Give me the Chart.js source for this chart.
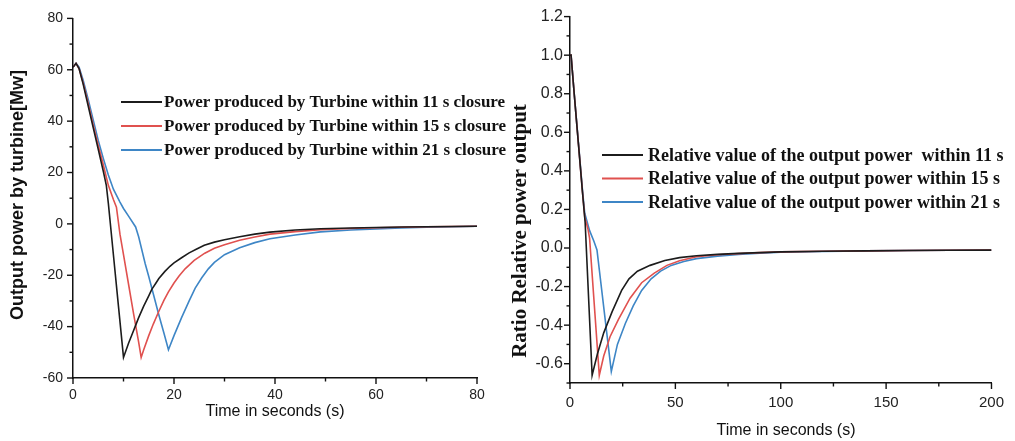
<!DOCTYPE html>
<html><head><meta charset="utf-8">
<script src="https://cdn.jsdelivr.net/npm/chart.js@4.4.0/dist/chart.umd.min.js"></script>
<style>
html,body{margin:0;padding:0;background:#fff;width:1015px;height:441px;overflow:hidden}
#c1{position:absolute;left:0;top:0}
#c2{position:absolute;left:510px;top:0}
</style></head><body>
<canvas id="c1" width="510" height="441"></canvas>
<canvas id="c2" width="505" height="441"></canvas>
<script>
// ---------- Left chart data: output power (MW) vs time (s) ----------
const powerTime11 = [0,0.6,1.2,2,3,4,5,6,6.6,7,8,9,10,11,12,12.3,13,14,15,15.6,16.5,17,18.2,19.2,20,21.5,23,24.5,26,28,30,33,36,39,44,49,55,60,65,70,75,80];
const power11     = [61,62.5,60.5,54.5,46,37.5,29,20.5,15,8,-12,-32,-52,-46.5,-41.5,-40,-36.5,-32,-28,-25.5,-22.8,-21.3,-18.5,-16.5,-15.2,-13.2,-11.3,-9.8,-8.3,-7.1,-6.2,-5,-4,-3.2,-2.4,-1.9,-1.6,-1.4,-1.2,-1.1,-1.0,-0.9];
const powerTime15 = [0,0.6,1.2,2,3,4,5,6,7,8,8.6,9.3,10,11,12,13,13.5,14,15,15.9,17,18,18.9,20,21,22.2,24,26.1,28,30,33,36,39,44,49,55,60,65,70,75,80];
const power15     = [61,62.5,60.5,55,47,38.5,30.5,23,15,9.5,6.5,-4,-12,-23.5,-35,-46,-52,-49,-43.5,-39,-34,-29.8,-26.5,-23,-20.3,-17.5,-14.2,-11.4,-9.5,-8.1,-6.4,-5.1,-4.0,-3.0,-2.3,-1.8,-1.5,-1.3,-1.1,-1.0,-0.9];
const powerTime21 = [0,0.6,1.2,2,3,4,5,6,7,8,9.3,10,11,12.4,13,14.3,15,16,17,18,18.9,20,21.5,23,24.2,25.5,26.8,28,30,33,36,39,44,49,55,60,65,70,75,80];
const power21     = [61,62.5,61,56,48.5,40.5,32.5,25.5,19,13.5,8.5,6,3,-1.2,-5,-15.5,-20.5,-28,-35.5,-42.5,-49,-43.5,-36.5,-30,-25,-21,-17.5,-15,-12,-9.3,-7.3,-5.8,-4.3,-3.1,-2.4,-2,-1.6,-1.3,-1.1,-0.9];
const powerLabels = ['Power produced by Turbine within 11 s closure','Power produced by Turbine within 15 s closure','Power produced by Turbine within 21 s closure'];
const powerXTicks = [0,20,40,60,80];
const powerXMinor = [10,30,50,70];
const powerYTicks = [-60,-40,-20,0,20,40,60,80];
const powerYMinor = [-50,-30,-10,10,30,50,70];

// ---------- Right chart data: relative power ratio vs time (s) ----------
const ratioTime11 = [0,0.5,2,4,6,7.2,10.5,13,16,20,24.5,28,32,38,45,52,60,70,80,90,100,120,140,160,180,200];
const ratio11     = [1.0,1.0,0.8,0.54,0.28,0.13,-0.66,-0.55,-0.44,-0.33,-0.22,-0.16,-0.12,-0.09,-0.065,-0.05,-0.04,-0.033,-0.028,-0.024,-0.02,-0.017,-0.015,-0.013,-0.012,-0.011];
const ratioTime15 = [0,0.5,2,4,6,7,8.5,9.3,13.9,16,19,23,28.5,34,40,46,52,60,70,80,90,100,120,140,160,180,200];
const ratio15     = [1.0,1.0,0.8,0.54,0.28,0.16,0.1,0.05,-0.66,-0.56,-0.46,-0.37,-0.26,-0.18,-0.13,-0.09,-0.066,-0.045,-0.035,-0.029,-0.024,-0.02,-0.017,-0.015,-0.013,-0.012,-0.011];
const ratioTime21 = [0,0.5,2,4,6,7,9.3,11.3,12.8,19.6,22.5,26.3,30,34,38.5,43,48,54,60,70,80,90,100,120,140,160,180,200];
const ratio21     = [1.0,1.0,0.8,0.545,0.29,0.18,0.09,0.036,-0.01,-0.64,-0.5,-0.39,-0.3,-0.22,-0.16,-0.12,-0.09,-0.07,-0.055,-0.042,-0.034,-0.027,-0.022,-0.018,-0.015,-0.013,-0.012,-0.011];
const ratioLabels = ['Relative value of the output power  within 11 s','Relative value of the output power within 15 s','Relative value of the output power within 21 s'];
const ratioXTicks = [0,50,100,150,200];
const ratioXMinor = [25,75,125,175];
const ratioYTicks = [-0.6,-0.4,-0.2,0.0,0.2,0.4,0.6,0.8,1.0,1.2];
const ratioYMinor = [-0.7,-0.5,-0.3,-0.1,0.1,0.3,0.5,0.7,0.9,1.1];

const seriesColors = ['#1c1c1c','#e0514f','#3e86c6'];
const pts = (xs, ys) => xs.map((x, i) => ({x, y: ys[i]}));

function decor(o){
  return {
    id: 'decor',
    afterDraw(chart){
      const ctx = chart.ctx, a = chart.chartArea, xs = chart.scales.x, ys = chart.scales.y;
      const line = (x1,y1,x2,y2) => { ctx.beginPath(); ctx.moveTo(x1,y1); ctx.lineTo(x2,y2); ctx.stroke(); };
      ctx.save();
      ctx.strokeStyle = '#111'; ctx.lineWidth = 1.4;
      o.xMajor.forEach(v => { const p = xs.getPixelForValue(v); line(p, a.bottom, p, a.bottom + 6); });
      o.xMinor.forEach(v => { const p = xs.getPixelForValue(v); line(p, a.bottom, p, a.bottom + 3.5); });
      o.yMajor.forEach(v => { const p = ys.getPixelForValue(v); line(a.left, p, a.left - 6, p); });
      o.yMinor.forEach(v => { const p = ys.getPixelForValue(v); line(a.left, p, a.left - 3.5, p); });
      // legend
      ctx.font = o.legendFont; ctx.textBaseline = 'middle'; ctx.textAlign = 'left';
      chart.data.datasets.forEach((ds, i) => {
        const y = o.legY + i * o.legGap;
        ctx.strokeStyle = ds.borderColor; ctx.lineWidth = 2;
        line(o.legX, y, o.legX + 41, y);
        ctx.fillStyle = '#111';
        ctx.fillText(ds.label, o.legX + o.legTextGap, y + 1);
      });
      // axis titles
      ctx.fillStyle = '#111'; ctx.textAlign = 'center'; ctx.textBaseline = 'middle';
      ctx.font = o.xTitleFont;
      ctx.fillText(o.xTitle, o.xTitleX, o.xTitleY);
      ctx.save();
      ctx.translate(o.yTitleX, o.yTitleY); ctx.rotate(-Math.PI / 2);
      ctx.font = o.yTitleFont;
      ctx.fillText(o.yTitle, 0, 0);
      ctx.restore();
      ctx.restore();
    }
  };
}

function axis(min, max, tickVals, fmt, afterFit, font, pad){
  return {
    type: 'linear', min, max,
    afterBuildTicks: s => { s.ticks = tickVals.map(v => ({value: v})); },
    afterFit,
    grid: {display: false, drawTicks: false},
    border: {display: true, color: '#111', width: 1.5},
    ticks: {color: '#222', font: {family: '"Liberation Sans", Arial, sans-serif', size: font}, padding: pad, callback: fmt, maxRotation: 0, autoSkip: false}
  };
}

function makeDatasets(pairs, labels){
  return pairs.map((p, i) => ({
    label: labels[i], data: pts(p[0], p[1]), borderColor: seriesColors[i], backgroundColor: seriesColors[i],
    borderWidth: 1.6, pointRadius: 0, tension: 0, fill: false
  }));
}

const common = {
  responsive: false, animation: false, devicePixelRatio: 1,
  plugins: {legend: {display: false}, tooltip: {enabled: false}}
};

new Chart(document.getElementById('c1'), {
  type: 'line',
  data: {datasets: makeDatasets([[powerTime11, power11],[powerTime15, power15],[powerTime21, power21]], powerLabels)},
  options: Object.assign({}, common, {
    layout: {padding: {left: 0, right: 33, top: 15, bottom: 0}},
    scales: {
      x: axis(0, 80, powerXTicks, v => String(v), s => { s.height = 63; }, 14, 9),
      y: axis(-60, 80, powerYTicks, v => String(v), s => { s.width = 73; }, 14, 10)
    }
  }),
  plugins: [decor({
    xMajor: powerXTicks, xMinor: powerXMinor, yMajor: powerYTicks, yMinor: powerYMinor,
    legendFont: 'bold 17px "Liberation Serif", "Times New Roman", serif', legX: 121, legY: 102, legGap: 24, legTextGap: 43,
    xTitle: 'Time in seconds (s)', xTitleFont: '16px "Liberation Sans", Arial, sans-serif', xTitleX: 275, xTitleY: 412,
    yTitle: 'Output power by turbine[Mw]', yTitleFont: 'bold 18px "Liberation Sans", Arial, sans-serif', yTitleX: 18, yTitleY: 195
  })]
});

new Chart(document.getElementById('c2'), {
  type: 'line',
  data: {datasets: makeDatasets([[ratioTime11, ratio11],[ratioTime15, ratio15],[ratioTime21, ratio21]], ratioLabels)},
  options: Object.assign({}, common, {
    layout: {padding: {left: 0, right: 14, top: 15, bottom: 0}},
    scales: {
      x: axis(0, 200, ratioXTicks, v => String(v), s => { s.height = 58; }, 15, 11),
      y: axis(-0.7, 1.2, ratioYTicks, v => v.toFixed(1), s => { s.width = 60; }, 16, 7)
    }
  }),
  plugins: [decor({
    xMajor: ratioXTicks, xMinor: ratioXMinor, yMajor: ratioYTicks, yMinor: ratioYMinor,
    legendFont: 'bold 18px "Liberation Serif", "Times New Roman", serif', legX: 92, legY: 155, legGap: 23.5, legTextGap: 46,
    xTitle: 'Time in seconds (s)', xTitleFont: '16px "Liberation Sans", Arial, sans-serif', xTitleX: 276, xTitleY: 431,
    yTitle: 'Ratio Relative power output', yTitleFont: 'bold 21px "Liberation Serif", "Times New Roman", serif', yTitleX: 11, yTitleY: 231
  })]
});
</script>
</body></html>
